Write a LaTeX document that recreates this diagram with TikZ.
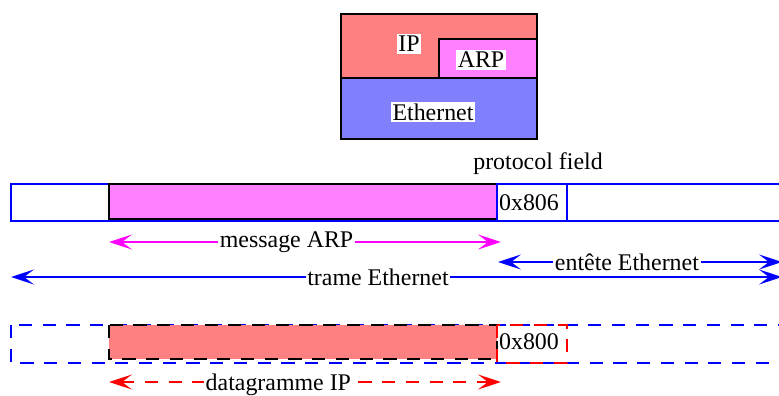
\documentclass[tikz,border=0pt]{standalone}
\usepackage{fontspec}
\setmainfont{Liberation Serif}
\usetikzlibrary{arrows.meta}

\definecolor{ipred}{RGB}{255,128,128}
\definecolor{arppink}{RGB}{255,128,255}
\definecolor{ethblue}{RGB}{128,128,255}
\definecolor{arpline}{RGB}{255,0,255}
\definecolor{ethline}{RGB}{0,0,255}
\definecolor{ipline}{RGB}{255,0,0}

\tikzset{
  lbl/.style={fill=white,text=black,inner sep=1pt,font=\fontsize{13.6}{16}\selectfont},
  txt/.style={inner sep=0pt,text=black,font=\fontsize{13.6}{16}\selectfont},
  dimarrow/.style={line width=1pt,
    {Stealth[length=13pt,width=8.5pt,inset=5.5pt]}-{Stealth[length=13pt,width=8.5pt,inset=5.5pt]}},
  dsh/.style={dash pattern=on 7.5pt off 6pt},
}

\begin{document}
\begin{tikzpicture}[x=0.02cm,y=-0.02cm,line width=1pt]
\clip (0,0) rectangle (779,396);

% protocol stack
\fill[ipred] (341,14) rectangle (537,78);
\fill[arppink] (439,39) rectangle (537,78);
\fill[ethblue] (341,78) rectangle (537,139);
\draw (341,14) rectangle (537,139);
\draw (341,78) -- (537,78);
\draw (439,78) -- (439,39) -- (537,39);
\node[lbl] (ip) at (409,44) {IP};
\node[lbl] (arp) at (481,60) {ARP};
\node[lbl] (eth) at (433,112) {Ethernet};

% trame ARP
\node[txt] (field) at (538,164) {protocol field};
\draw[ethline] (11,184) rectangle (790,221);
\filldraw[fill=arppink,draw=black] (109,184) rectangle (497,219);
\draw[ethline] (497,184) rectangle (567,221);
\node[txt] (f806) at (529,203) {0x806};

\coordinate (msgL) at (109,242);
\coordinate (msgR) at (501,242);
\coordinate (entL) at (498,262);
\coordinate (entR) at (782,262);
\coordinate (traL) at (11,277);
\coordinate (traR) at (782,277);
\draw[dimarrow,arpline] (msgL) -- node[lbl,pos=0.453] (msg) {message ARP} (msgR);
\draw[dimarrow,ethline] (entL) -- node[lbl,pos=0.454] (ent) {entête Ethernet} (entR);
\draw[dimarrow,ethline] (traL) -- node[lbl,pos=0.476] (tra) {trame Ethernet} (traR);

% trame IP
\draw[ethline,dsh] (11,325) rectangle (790,363);
\fill[ipred] (109,325) rectangle (497,359);
\draw[black,dsh] (109,325) rectangle (497,359);
\draw[ipline,dsh] (497,325) rectangle (567,363);
\node[txt] (f800) at (529,342) {0x800};

\coordinate (dgL) at (109,382);
\coordinate (dgR) at (501,382);
\draw[dimarrow,ipline,dsh] (dgL) -- node[lbl,pos=0.432,yshift=-3*0.02cm] (dg) {datagramme IP} (dgR);
\end{tikzpicture}
\end{document}
